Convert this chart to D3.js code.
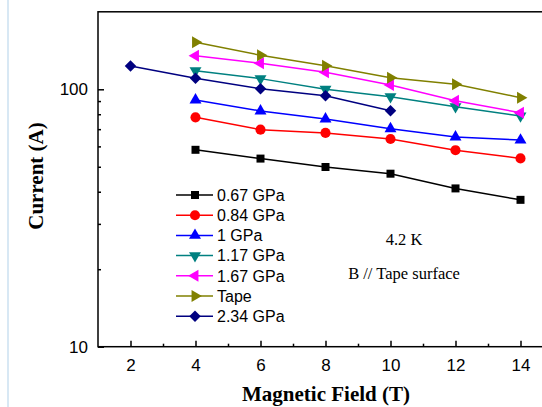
<!DOCTYPE html>
<html><head><meta charset="utf-8">
<script src="https://cdn.jsdelivr.net/npm/d3@7"></script>
<style>body{margin:0;background:#fff;overflow:hidden}svg{display:block}</style>
</head><body>
<script>
const fields = [2, 4, 6, 8, 10, 12, 14];
const seriesNames = ["0.67 GPa", "0.84 GPa", "1 GPa", "1.17 GPa", "1.67 GPa", "Tape", "2.34 GPa"];
const seriesColors = ["#000000", "#ff0000", "#0000ff", "#008080", "#ff00ff", "#808000", "#000080"];
const seriesMarkers = ["square", "circle", "up", "down", "left", "right", "diamond"];
const s067 = [null, 58.2, 53.8, 49.9, 47.0, 41.2, 37.2];
const s084 = [null, 77.8, 69.7, 67.7, 64.1, 58.0, 53.9];
const s100 = [null, 90.9, 82.4, 76.7, 70.3, 65.3, 63.5];
const s117 = [null, 118.1, 110.0, 100.0, 93.6, 85.6, 78.8];
const s167 = [null, 135.0, 126.2, 116.4, 103.9, 90.3, 81.1];
const sTape = [null, 152.3, 135.6, 123.5, 110.9, 104.6, 92.8];
const s234 = [123.2, 110.3, 100.5, 94.4, 82.6, null, null];
const seriesValues = [s067, s084, s100, s117, s167, sTape, s234];
const xTicks = [2, 4, 6, 8, 10, 12, 14];
const xMinor = [3, 5, 7, 9, 11, 13];
const yTicks = [10, 100];
const yMinor = [20, 30, 40, 50, 60, 70, 80, 90];

const W = 542, H = 407;
const svg = d3.select("body").append("svg").attr("width", W).attr("height", H);

// page artifact line at left
svg.append("line").attr("x1", 8).attr("x2", 8).attr("y1", 0).attr("y2", H)
  .attr("stroke", "#d8e8f4").attr("stroke-width", 2);

const x = d3.scaleLinear().domain([1, 15]).range([98, 553]);
const y = d3.scaleLog().domain([10, 200]).range([346.7, 11.8]);

// frame
svg.append("rect").attr("x", x(1)).attr("y", y(200)).attr("width", x(15) - x(1)).attr("height", y(10) - y(200))
  .attr("fill", "none").attr("stroke", "#000").attr("stroke-width", 1.5);

const gx = svg.append("g").attr("transform", `translate(0,${y(10)})`);
gx.call(d3.axisBottom(x).tickValues(xTicks).tickSize(-6).tickSizeOuter(0).tickPadding(12).tickFormat(d3.format("d")));
const gxm = svg.append("g").attr("transform", `translate(0,${y(10)})`);
gxm.call(d3.axisBottom(x).tickValues(xMinor).tickSize(-3).tickSizeOuter(0).tickFormat(""));

const gy = svg.append("g").attr("transform", `translate(${x(1)},0)`);
gy.call(d3.axisLeft(y).tickValues(yTicks).tickSize(-6).tickSizeOuter(0).tickPadding(10).tickFormat(d3.format("d")));
const gym = svg.append("g").attr("transform", `translate(${x(1)},0)`);
gym.call(d3.axisLeft(y).tickValues(yMinor).tickSize(-3).tickSizeOuter(0).tickFormat(""));

svg.selectAll(".domain").remove();
svg.selectAll(".tick line").attr("stroke", "#000").attr("stroke-width", 1.5);
svg.selectAll(".tick text").attr("font-family", "Liberation Sans, Arial, sans-serif").attr("font-size", 17).attr("fill", "#000");

// axis titles
svg.append("text").attr("x", 326).attr("y", 401).attr("text-anchor", "middle")
  .attr("font-family", "Liberation Serif, Times New Roman, serif").attr("font-weight", "bold").attr("font-size", 21)
  .text("Magnetic Field (T)");
svg.append("text").attr("transform", "translate(43,176) rotate(-90)").attr("text-anchor", "middle")
  .attr("font-family", "Liberation Serif, Times New Roman, serif").attr("font-weight", "bold").attr("font-size", 21)
  .text("Current (A)");

// annotations
svg.append("text").attr("x", 404).attr("y", 245).attr("text-anchor", "middle")
  .attr("font-family", "Liberation Serif, Times New Roman, serif").attr("font-size", 16.5).text("4.2 K");
svg.append("text").attr("x", 404).attr("y", 279).attr("text-anchor", "middle")
  .attr("font-family", "Liberation Serif, Times New Roman, serif").attr("font-size", 16.5).text("B // Tape surface");

function markerPath(kind) {
  if (kind === "square") return { d: d3.symbol(d3.symbolSquare, 64)(), rot: 0 };
  if (kind === "circle") return { d: d3.symbol(d3.symbolCircle, 80)(), rot: 0 };
  if (kind === "diamond") return { d: d3.symbol(d3.symbolSquare, 66)(), rot: 45 };
  const rot = { up: 0, down: 180, left: -90, right: 90 }[kind];
  return { d: d3.symbol(d3.symbolTriangle, 62)(), rot: rot };
}

const line = d3.line().defined(d => d.v != null).x(d => x(d.f)).y(d => y(d.v));

seriesValues.forEach((vals, i) => {
  const pts = fields.map((f, j) => ({ f: f, v: vals[j] }));
  const g = svg.append("g");
  g.append("path").attr("d", line(pts)).attr("fill", "none").attr("stroke", seriesColors[i]).attr("stroke-width", 1.5);
  const m = markerPath(seriesMarkers[i]);
  g.selectAll("path.m").data(pts.filter(d => d.v != null)).enter().append("path").attr("class", "m")
    .attr("d", m.d).attr("fill", seriesColors[i])
    .attr("transform", d => `translate(${x(d.f)},${y(d.v)}) rotate(${m.rot})`);
});

// legend
const lg = svg.append("g");
seriesNames.forEach((name, i) => {
  const cy = 195 + i * 20.2;
  lg.append("line").attr("x1", 176).attr("x2", 213).attr("y1", cy).attr("y2", cy)
    .attr("stroke", seriesColors[i]).attr("stroke-width", 1.5);
  const m = markerPath(seriesMarkers[i]);
  lg.append("path").attr("d", m.d).attr("fill", seriesColors[i])
    .attr("transform", `translate(195,${cy}) rotate(${m.rot})`);
  lg.append("text").attr("x", 217).attr("y", cy).attr("dy", "0.36em")
    .attr("font-family", "Liberation Sans, Arial, sans-serif").attr("font-size", 16).text(name);
});
</script>
</body></html>
